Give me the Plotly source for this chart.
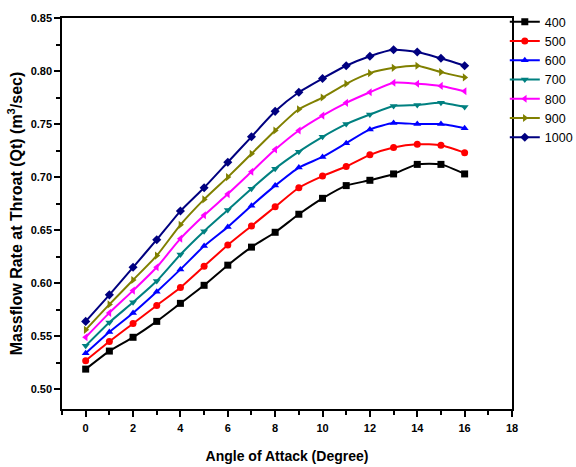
import plotly.graph_objects as go

angles = list(range(0, 17))
series_names = ["400", "500", "600", "700", "800", "900", "1000"]
q400 = [0.519, 0.536, 0.549, 0.564, 0.581, 0.598, 0.617, 0.634, 0.648, 0.665, 0.680, 0.692, 0.697, 0.703, 0.712, 0.712, 0.703]
q500 = [0.527, 0.545, 0.562, 0.579, 0.596, 0.616, 0.636, 0.654, 0.672, 0.690, 0.701, 0.710, 0.721, 0.728, 0.731, 0.730, 0.723]
q600 = [0.534, 0.554, 0.572, 0.592, 0.613, 0.635, 0.653, 0.673, 0.692, 0.709, 0.719, 0.732, 0.745, 0.751, 0.750, 0.750, 0.746]
q700 = [0.541, 0.563, 0.582, 0.602, 0.627, 0.649, 0.669, 0.689, 0.708, 0.724, 0.738, 0.750, 0.759, 0.767, 0.768, 0.770, 0.766]
q800 = [0.549, 0.572, 0.593, 0.615, 0.642, 0.664, 0.684, 0.705, 0.726, 0.744, 0.758, 0.770, 0.780, 0.789, 0.788, 0.786, 0.781]
q900 = [0.556, 0.580, 0.603, 0.626, 0.655, 0.679, 0.700, 0.722, 0.744, 0.764, 0.775, 0.788, 0.798, 0.803, 0.805, 0.799, 0.794]
q1000 = [0.564, 0.589, 0.615, 0.641, 0.668, 0.690, 0.714, 0.738, 0.762, 0.780, 0.793, 0.805, 0.814, 0.820, 0.818, 0.812, 0.805]

all_series = [q400, q500, q600, q700, q800, q900, q1000]
colors = ["#000000", "#FF0000", "#0000FF", "#008080", "#FF00FF", "#808000", "#000080"]
symbols = ["square", "circle", "triangle-up", "triangle-down", "triangle-left", "triangle-right", "diamond"]

fig = go.Figure()
for name, vals, c, s in zip(series_names, all_series, colors, symbols):
    fig.add_trace(go.Scatter(
        x=angles, y=vals, name=name, mode="lines+markers",
        line=dict(color=c, width=2, shape="spline", smoothing=0.6),
        marker=dict(color=c, symbol=s, size=7),
    ))

fig.update_layout(
    width=576, height=467,
    margin=dict(l=62, r=64, t=18, b=58, autoexpand=False),
    paper_bgcolor="white", plot_bgcolor="white",
    font=dict(family="Arial, Liberation Sans, sans-serif", color="black"),
    showlegend=True,
    legend=dict(x=0.984, xanchor="left", y=1.028, yanchor="top",
                font=dict(size=12.5, color="black"), itemwidth=30,
                bgcolor="rgba(0,0,0,0)", tracegroupgap=0),
    xaxis=dict(
        range=[-1, 18], tickmode="linear", tick0=0, dtick=2,
        ticks="outside", ticklen=6, tickwidth=1.5, tickcolor="black",
        minor=dict(ticks="outside", ticklen=4, tickwidth=1.5, tickcolor="black", dtick=1, tick0=0),
        showline=True, linecolor="black", linewidth=1.5, mirror=True,
        showgrid=False, zeroline=False, ticklabelstandoff=2,
        tickfont=dict(family="Arial, Liberation Sans, sans-serif", size=11, color="black", weight="bold"),
        title=dict(text="<b>Angle of Attack (Degree)</b>", font=dict(size=14, color="black"), standoff=18),
    ),
    yaxis=dict(
        range=[0.4814, 0.85], tickmode="linear", tick0=0.5, dtick=0.05, tickformat=".2f",
        ticks="outside", ticklen=6, tickwidth=1.5, tickcolor="black",
        minor=dict(ticks="outside", ticklen=4, tickwidth=1.5, tickcolor="black", dtick=0.025, tick0=0.5),
        showline=True, linecolor="black", linewidth=1.5, mirror=True,
        showgrid=False, zeroline=False,
        tickfont=dict(family="Arial, Liberation Sans, sans-serif", size=11, color="black", weight="bold"),
        title=dict(text="<b>Massflow Rate at Throat (Qt) (m<sup>3</sup>/sec)</b>", font=dict(size=16, color="black"), standoff=4),
    ),
)

fig.write_html("out.html")
